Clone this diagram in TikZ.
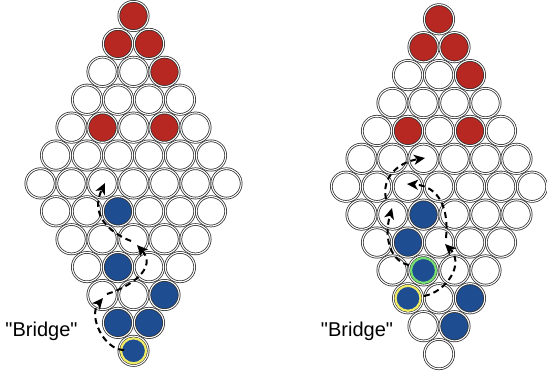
\documentclass[tikz,border=0pt]{standalone}
\usepackage{fontspec}
\newfontfamily\lsans{Liberation Sans}
\usetikzlibrary{arrows.meta}
\definecolor{pred}{RGB}{184,40,34}
\definecolor{pblue}{RGB}{30,78,145}
\definecolor{pring}{RGB}{45,45,45}
\definecolor{pyellow}{RGB}{242,236,100}
\definecolor{pgreen}{RGB}{120,222,110}
\tikzset{
  cell/.style={circle, inner sep=0pt, minimum size=29.4pt, draw=pring, line width=0.75pt,
    double=white, double distance=1.1pt, fill=white},
  redp/.style={fill=pred},
  bluep/.style={fill=pblue},
  jump/.style={draw=black, line width=2pt, dash pattern=on 6pt off 4pt,
    -{Stealth[length=11pt,width=10pt,inset=3pt]}},
  lbl/.style={font=\lsans\fontsize{20}{24}\selectfont, inner sep=0pt},
  ringy/.style={draw=pyellow, line width=2.2pt},
  ringg/.style={draw=pgreen, line width=2.2pt},
  % colours of left board
  L-0-0/.style={redp}, L-1-0/.style={redp}, L-1-1/.style={redp}, L-2-2/.style={redp},
  L-4-1/.style={redp}, L-4-3/.style={redp},
  L-7-2/.style={bluep}, L-9-1/.style={bluep}, L-10-2/.style={bluep},
  L-11-0/.style={bluep}, L-11-1/.style={bluep}, L-12-0/.style={bluep},
  % colours of right board
  R-0-0/.style={redp}, R-1-0/.style={redp}, R-1-1/.style={redp}, R-2-2/.style={redp},
  R-4-1/.style={redp}, R-4-3/.style={redp},
  R-7-2/.style={bluep}, R-8-1/.style={bluep}, R-9-1/.style={bluep},
  R-10-0/.style={bluep}, R-10-2/.style={bluep}, R-11-1/.style={bluep},
}
\begin{document}
\begin{tikzpicture}[x=1pt, y=-1pt]
\useasboundingbox (0,0) rectangle (547,376);
% boards
\foreach \b/\cx/\cy in {L/133.5/16, R/439/19.3}{
  \foreach \r in {0,...,12}{
    \pgfmathtruncatemacro\n{\r<=6 ? \r+1 : 13-\r}
    \pgfmathtruncatemacro\m{\n-1}
    \foreach \k in {0,...,\m}{
      \node[cell, \b-\r-\k/.try] (\b-\r-\k) at ({\cx+(\k-\m/2)*31}, {\cy+\r*27.9}) {};
    }
  }
}
% highlighted rings
\draw[ringy] (L-12-0.center) circle (12.5pt);
\draw[ringy] (R-10-0.center) circle (12.5pt);
\draw[ringg] (R-9-1.center) circle (12.5pt);

% left board jumps
\coordinate (a1s) at (124,350); \coordinate (a1e) at (103,298);
\coordinate (a2s) at (107,294); \coordinate (a2e) at (137,245);
\coordinate (a3s) at (131,241); \coordinate (a3e) at (105,183);
\draw[jump] (a1s) .. controls (104,350) and (88,316) .. (a1e);
\draw[jump] (a2s) .. controls (130,287) and (158,268) .. (a2e);
\draw[jump] (a3s) .. controls (108,232) and (90,214) .. (a3e);

% right board jumps
\coordinate (b1s) at (424,296); \coordinate (b1e) at (445,244);
\coordinate (b2s) at (446,238); \coordinate (b2e) at (407,184);
\coordinate (b3s) at (409,265); \coordinate (b3e) at (392,208);
\coordinate (b4s) at (386,199); \coordinate (b4e) at (425,158);
\draw[jump] (b1s) .. controls (446,292) and (465,264) .. (b1e);
\draw[jump] (b2s) .. controls (449,210) and (440,186) .. (b2e);
\draw[jump] (b3s) .. controls (392,262) and (383,240) .. (b3e);
\draw[jump] (b4s) .. controls (381,176) and (400,162) .. (b4e);

% labels
\node[lbl] (bl) at (41.5,331) {"Bridge"};
\node[lbl] (br) at (357,331) {"Bridge"};
\end{tikzpicture}
\end{document}
